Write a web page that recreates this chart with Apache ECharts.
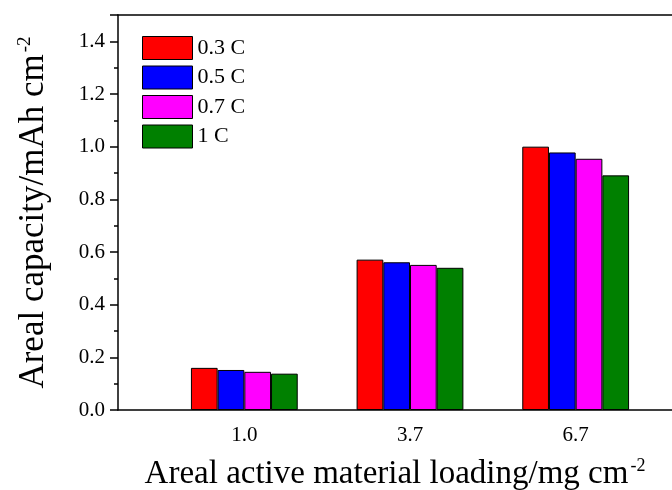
<!DOCTYPE html>
<html><head><meta charset="utf-8">
<script src="https://cdn.jsdelivr.net/npm/echarts@6/dist/echarts.min.js"></script>
<style>html,body{margin:0;padding:0;background:#fff}#c{width:672px;height:490px}</style>
</head><body><div id="c"></div>
<script>
const categories = ['1.0', '3.7', '6.7'];
const seriesNames = ['0.3 C', '0.5 C', '0.7 C', '1 C'];
const v03 = [0.160, 0.571, 1.000];
const v05 = [0.152, 0.561, 0.978];
const v07 = [0.145, 0.551, 0.954];
const v1 = [0.138, 0.540, 0.891];
const yTicks = [0.0, 0.2, 0.4, 0.6, 0.8, 1.0, 1.2, 1.4];
const colors = ['#FF0000', '#0000FF', '#FF00FF', '#008000'];
const values = [v03, v05, v07, v1];
const FONT = '"Liberation Serif", "Times New Roman", serif';

const chart = echarts.init(document.getElementById('c'), null, {renderer: 'canvas'});
const option = {
  backgroundColor: '#ffffff',
  animation: false,
  textStyle: {fontFamily: FONT},
  legend: {
    orient: 'vertical', left: 137, top: 31, icon: 'rect',
    itemWidth: 50, itemHeight: 23, itemGap: 5.5,
    itemStyle: {borderColor: '#000', borderWidth: 1},
    textStyle: {fontFamily: FONT, fontSize: 22, color: '#000'},
    data: seriesNames
  },
  grid: [
    {left: 118, right: 0, top: 15, bottom: 80, outerBoundsMode: 'none', containLabel: false},
    {left: 161.5, right: 13.5, top: 15, bottom: 80, outerBoundsMode: 'none', containLabel: false}
  ],
  xAxis: [
    {gridIndex: 0, type: 'value', position: 'bottom', min: 0, max: 1,
     axisLine: {show: true, lineStyle: {color: '#000', width: 1.5}},
     axisTick: {show: false}, axisLabel: {show: false}, splitLine: {show: false},
     name: 'Areal active material loading/mg cm{sup|-2}', nameLocation: 'middle', nameGap: 47,
     nameTextStyle: {fontFamily: FONT, fontSize: 33, color: '#000',
       rich: {sup: {fontFamily: FONT, fontSize: 18, color: '#000', padding: [0, 0, 16, 2]}}}},
    {gridIndex: 0, type: 'value', position: 'top', min: 0, max: 1,
     axisLine: {show: true, lineStyle: {color: '#000', width: 1.5}},
     axisTick: {show: false}, axisLabel: {show: false}, splitLine: {show: false}},
    {gridIndex: 1, type: 'category', data: categories,
     axisLine: {show: false}, axisTick: {show: false},
     axisLabel: {fontFamily: FONT, fontSize: 21, color: '#000', margin: 15}}
  ],
  yAxis: [
    {gridIndex: 0, type: 'value', min: 0, max: 1.5, interval: 0.2,
     axisLine: {show: true, lineStyle: {color: '#000', width: 1.5}},
     axisTick: {show: true, inside: false, length: 8, lineStyle: {color: '#000', width: 1.5}},
     minorTick: {show: true, splitNumber: 2, length: 4, lineStyle: {color: '#000', width: 1.5}},
     splitLine: {show: false},
     axisLabel: {fontFamily: FONT, fontSize: 21, color: '#000', margin: 13,
       formatter: function (v) {
         for (const t of yTicks) { if (Math.abs(t - v) < 1e-6) return t.toFixed(1); }
         return '';
       }},
     name: 'Areal capacity/mAh cm{sup|-2}', nameLocation: 'middle', nameGap: 66,
     nameTextStyle: {fontFamily: FONT, fontSize: 35, color: '#000',
       rich: {sup: {fontFamily: FONT, fontSize: 19, color: '#000', padding: [0, 0, 17, 2]}}}},
    {gridIndex: 1, type: 'value', min: 0, max: 1.5, show: false}
  ],
  series: seriesNames.map((n, i) => ({
    name: n, type: 'bar', xAxisIndex: 2, yAxisIndex: 1,
    data: values[i], barWidth: 26.7, barGap: '0%',
    itemStyle: {color: colors[i], borderColor: '#000', borderWidth: 1}
  }))
};
chart.setOption(option);
</script></body></html>
